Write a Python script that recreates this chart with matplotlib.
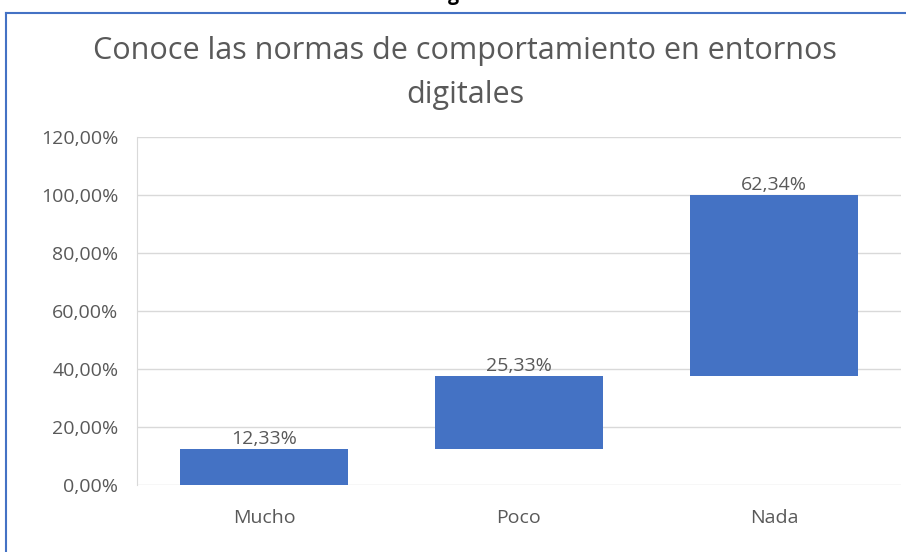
import matplotlib
matplotlib.use('Agg')
import matplotlib.pyplot as plt
from matplotlib.lines import Line2D
import numpy as np

# Datos del gráfico de cascada
categorias = ['Mucho', 'Poco', 'Nada']
valores = [0.1233, 0.2533, 0.6234]
etiquetas = ['12,33%', '25,33%', '62,34%']
ticks_y = [0.0, 0.2, 0.4, 0.6, 0.8, 1.0, 1.2]

plt.rcParams['font.family'] = ['Open Sans', 'DejaVu Sans']

gris = '#595959'
azul = '#4472C4'

fig = plt.figure(figsize=(9.06, 5.52), dpi=100)
ax = fig.add_axes([136.5 / 906, 67 / 552, 765 / 906, 348 / 552])

inicio = np.concatenate([[0], np.cumsum(valores)[:-1]])
x = np.arange(len(categorias))
bars = ax.bar(x, valores, bottom=inicio, width=0.66, color=azul, zorder=3)

for bar, txt in zip(bars, etiquetas):
    ax.text(bar.get_x() + bar.get_width() / 2, bar.get_y() + bar.get_height() + 0.004, txt,
            ha='center', va='bottom', fontsize=14, color=gris)

ax.set_xlim(-0.5, len(categorias) - 0.5)
ax.set_ylim(0, 1.2)
ax.set_yticks(ticks_y)
ax.set_yticklabels([f'{t*100:.2f}%'.replace('.', ',') for t in ticks_y])
ax.set_xticks(x)
ax.set_xticklabels(categorias)
ax.tick_params(axis='y', length=0, pad=13, labelsize=14, labelcolor=gris)
ax.tick_params(axis='x', length=0, pad=17.5, labelsize=14, labelcolor=gris)
ax.grid(True, axis='y', color='#D9D9D9', linewidth=1, zorder=0)
for s in ['top', 'right', 'bottom']:
    ax.spines[s].set_visible(False)
ax.spines['left'].set_color('#D9D9D9')

fig.text(465 / 906, 1 - 73 / 552, 'Conoce las normas de comportamiento en entornos\ndigitales',
         ha='center', va='center', fontsize=22, color=gris, linespacing=1.58)

# marco azul del recuadro
fig.add_artist(Line2D([6 / 906, 6 / 906], [0, 1 - 13 / 552], color=azul, linewidth=1.5))
fig.add_artist(Line2D([6 / 906, 1], [1 - 13 / 552, 1 - 13 / 552], color=azul, linewidth=1.5))
fig.text(453 / 906, 1.0, 'g', ha='center', va='baseline', fontsize=14,
         fontweight='bold', color='black')

fig.savefig('out.png', dpi=100)
